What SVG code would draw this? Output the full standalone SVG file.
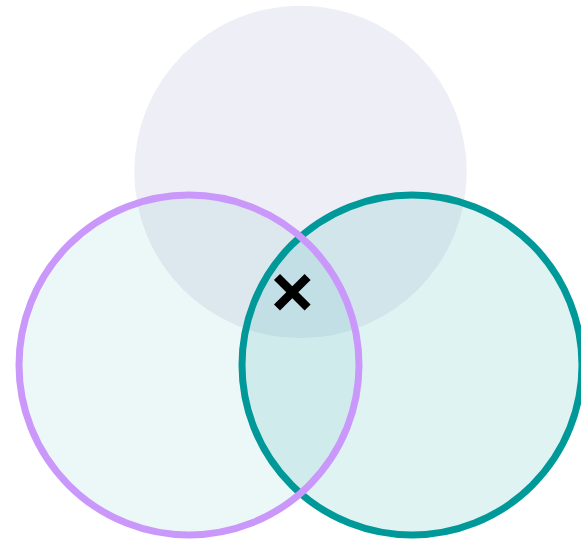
<svg xmlns="http://www.w3.org/2000/svg" width="581" height="540" viewBox="0 0 581 540">
  <style>
    .top { fill: #EEEFF6; stroke: none; }
    .left { fill: #009999; fill-opacity: 0.075; stroke: #CA98FB; stroke-width: 7; }
    .right { fill: #009999; fill-opacity: 0.12; stroke: #009999; stroke-width: 7; }
    .mark { stroke: #000000; stroke-width: 8.5; stroke-linecap: butt; fill: none; }
  </style>
  <rect width="581" height="540" fill="#FFFFFF"/>
  <g id="circle-top">
    <circle class="top" cx="300.5" cy="171.9" r="166.2"/>
  </g>
  <g id="circle-right">
    <circle class="right" cx="412" cy="365" r="170"/>
  </g>
  <g id="circle-left">
    <circle class="left" cx="189" cy="365" r="170"/>
  </g>
  <g id="connectors"/>
  <g id="mark">
    <path class="mark" d="M277 277 L307.6 307.6 M307.6 277 L277 307.6"/>
  </g>
</svg>
